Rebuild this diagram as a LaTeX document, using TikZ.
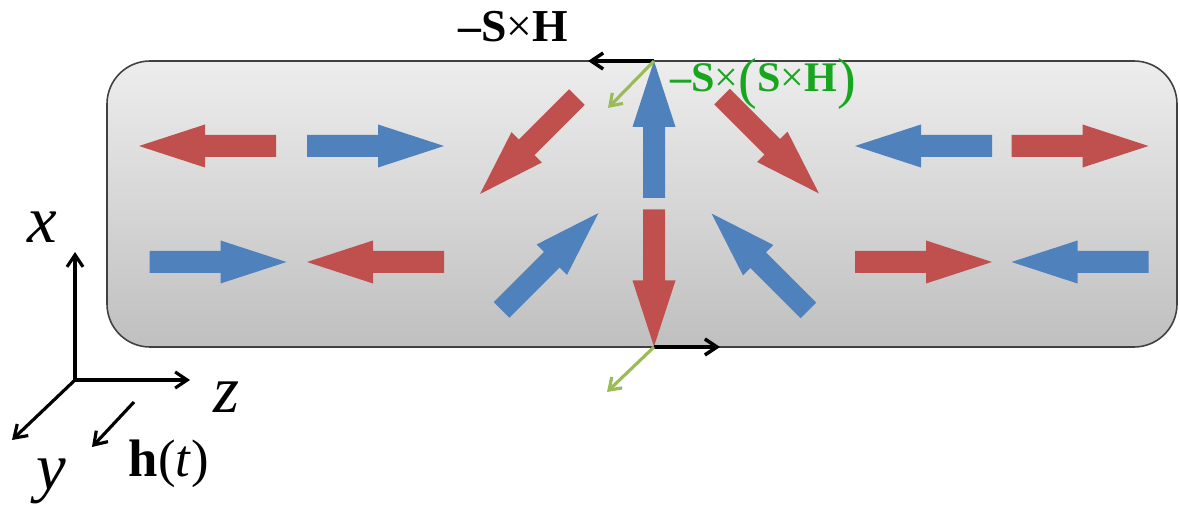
\documentclass[tikz,border=0pt]{standalone}
\usepackage{fontspec}
\setmainfont{Liberation Serif}
\usetikzlibrary{positioning, arrows.meta}
\definecolor{spinred}{HTML}{C0504D}
\definecolor{spinblue}{HTML}{4F81BD}
\definecolor{dampgreen}{HTML}{9BBB59}
\definecolor{labelgreen}{HTML}{17A61E}
\tikzset{
    sample/.style={
        draw=black!75, line width=0.9pt,
        rounded corners=0.86cm,
        top color=black!7, bottom color=black!25
    },
    torque/.style={
        -{Straight Barb[length=2.4mm, width=3.2mm]}, line width=2pt
    },
    damping/.style={
        -{Straight Barb[length=2.2mm, width=3mm]}, line width=1.8pt, dampgreen
    },
    axis/.style={
        -{Straight Barb[length=2.4mm, width=3.2mm]}, line width=1.8pt
    },
    axislabel/.style={
        inner sep=0pt, font=\fontsize{38}{38}\selectfont\itshape
    }
}

\begin{document}
\begin{tikzpicture}[x=0.02cm, y=0.02cm]
\useasboundingbox (0,0) rectangle (1180,511);

% the sample
\path[sample] (107,164) rectangle (1177,450);

% spins: colour / centre x / centre y / angle
\foreach \col/\cx/\cy/\ang in {
    spinred/207.5/365/180, spinblue/375.5/365/0,
    spinblue/218/249/0, spinred/375.5/249/180,
    spinred/528.5/365.5/225, spinblue/550/249.5/45,
    spinblue/654/381.5/90, spinred/654/233/270,
    spinred/770.5/366/-45, spinblue/760/249/135,
    spinblue/923.5/365/180, spinred/1080/365/0,
    spinred/923.5/249/0, spinblue/1080/249/180}
    \fill[\col, shift={(\cx,\cy)}, rotate=\ang]
        (-68.5,-11) -- (2.5,-11) -- (2.5,-21.5) -- (68.5,0)
        -- (2.5,21.5) -- (2.5,11) -- (-68.5,11) -- cycle;

% torques at the wall centre
\coordinate (top) at (654,450);
\coordinate (bottom) at (654,164);
\coordinate (prectop) at (588,450);
\coordinate (precbot) at (720,164);
\coordinate (damptop) at (608,403);
\coordinate (dampbot) at (607,119);

\draw[torque] (top) -- (prectop);
\draw[torque] (bottom) -- (precbot);
\draw[damping] (top) -- (damptop);
\draw[damping] (bottom) -- (dampbot);

\node[anchor=base, inner sep=0pt, font=\fontsize{26}{26}\selectfont\bfseries] (prec) at (513,469) {–S{\mdseries×}H};
\node[anchor=base, inner sep=0pt, text=labelgreen, font=\fontsize{24}{24}\selectfont\bfseries] (damp) at (763,419)
    {–S{\mdseries×}{\mdseries\fontsize{32}{32}\selectfont\raisebox{-3pt}{(}}S{\mdseries×}H{\mdseries\fontsize{32}{32}\selectfont\raisebox{-3pt}{)}}};

% axes
\coordinate (origin) at (75,131);
\coordinate (xend) at (75,259);
\coordinate (zend) at (190,131);
\coordinate (yend) at (12,71);
\coordinate (hstart) at (134,109);
\coordinate (hend) at (92,64);

\draw[axis] (origin) -- (xend);
\draw[axis] (origin) -- (zend);
\draw[axis] (origin) -- (yend);
\draw[axis] (hstart) -- (hend);

\node[axislabel] (xlab) at (42,284) {x};
\node[axislabel] (zlab) at (226,114) {z};
\node[axislabel] (ylab) at (51,30) {y};
\node[inner sep=0pt, font=\fontsize{30}{30}\selectfont] (hlab) at (169,47) {\textbf{h}(\textit{t})};

\end{tikzpicture}
\end{document}
